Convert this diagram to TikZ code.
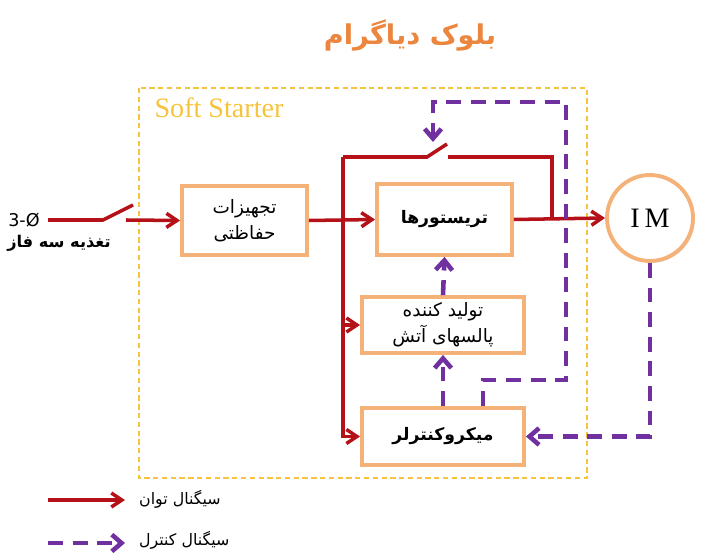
\documentclass[tikz,border=0pt]{standalone}
\usepackage{fontspec}
\setmainfont{Liberation Serif}
\newfontfamily\farsi[Script=Arabic]{DejaVu Sans}
\newfontfamily\latinsans{DejaVu Sans}
\TeXXeTstate=1
\usepackage{xcolor}
\usetikzlibrary{arrows.meta, shadows}
\definecolor{powred}{RGB}{180,18,24}
\definecolor{ctrlpurple}{RGB}{112,48,160}
\definecolor{boxorange}{RGB}{244,177,120}
\definecolor{titleorange}{RGB}{236,134,62}
\definecolor{framegold}{RGB}{246,196,60}

\begin{document}
\begin{tikzpicture}[x=0.02cm, y=-0.02cm,
    power/.style={draw=powred, line width=2pt},
    powarrow/.style={power, -{Straight Barb[length=6pt, width=8pt]}},
    ctrl/.style={draw=ctrlpurple, line width=2.6pt, dash pattern=on 8.5pt off 5.5pt, -{Straight Barb[length=5.5pt, width=9.5pt]}},
    blockbox/.style={draw=boxorange, line width=2.2pt, fill=white, align=center, inner sep=0pt,
        drop shadow={opacity=0.2, shadow xshift=1pt, shadow yshift=-1pt},
        node font=\farsi\fontsize{10.5}{15}\selectfont},
    boldtext/.style={font=\bfseries\fontsize{9.8}{12}\selectfont},
    ]
    \useasboundingbox (0,0) rectangle (702,553);
    \fill[white] (0,0) rectangle (702,553);

    % title and frame
    \node[text=titleorange, font=\farsi\bfseries\fontsize{15.5}{18}\selectfont] (title) at (410,35) {\beginR بلوک دیاگرام\endR};
    \draw[framegold, line width=0.6pt, dash pattern=on 3pt off 2pt] (139,88) rectangle (587,478);
    \node[text=framegold, font=\fontsize{16}{18}\selectfont] (softlbl) at (219,108) {Soft Starter};

    % blocks
    \node[blockbox, minimum width=2.5cm, minimum height=1.38cm] (prot) at (244.5,220.5) {\beginR تجهیزات\endR\\\beginR حفاظتی\endR};
    \node[blockbox, boldtext, minimum width=2.7cm, minimum height=1.42cm] (thy) at (444.5,219.5) {\beginR تریستورها\endR};
    \node[blockbox, minimum width=3.24cm, minimum height=1.12cm] (pulse) at (443,325) {\beginR تولید کننده\endR\\\beginR پالسهای آتش\endR};
    \node[blockbox, boldtext, minimum width=3.24cm, minimum height=1.14cm] (micro) at (443,436.5) {\beginR میکروکنترلر\endR};
    \node[circle, draw=boxorange, line width=2.2pt, fill=white, minimum size=1.72cm,
        drop shadow={opacity=0.2, shadow xshift=1pt, shadow yshift=-1pt},
        font=\fontsize{16}{18}\selectfont] (im) at (650,218) {I\,M};

    % input
    \node[font=\latinsans\fontsize{10}{12}\selectfont] (phase) at (24,220) {3-Ø};
    \node[font=\farsi\bfseries\fontsize{9.2}{12}\selectfont] (feed) at (59,243) {\beginR تغذیه سه فاز\endR};
    \coordinate (in0) at (48,220);
    \coordinate (sw1a) at (103,220);
    \coordinate (sw1b) at (133,205);
    \coordinate (sw1c) at (126,220);
    \draw[power] (in0) -- (sw1a) -- (sw1b);
    \draw[powarrow] (sw1c) -- (prot.west);

    % power path
    \coordinate (bus) at (343,157);
    \coordinate (sw2a) at (427,157);
    \coordinate (sw2b) at (447,144);
    \coordinate (sw2c) at (448,157);
    \coordinate (join) at (552,157);
    \draw[powarrow] (prot.east) -- (thy.west);
    \draw[power] (bus) -- (sw2a) -- (sw2b);
    \draw[power] (sw2c) -- (join) -- (join |- thy.east);
    \draw[powarrow] (thy.east) -- (im.west);
    \draw[powarrow] (bus) |- (micro.west);
    \draw[powarrow] (bus |- pulse.west) -- (pulse.west);

    % control path
    \coordinate (c1) at (483,380);
    \coordinate (c2) at (566,380);
    \coordinate (c3) at (566,102);
    \coordinate (c4) at (433,102);
    \coordinate (swtip) at (433,142);
    \draw[ctrl] (c1 |- micro.north) -- (c1) -- (c2) -- (c3) -- (c4) -- (swtip);
    \draw[ctrl] (micro.north) -- (pulse.south);
    \draw[ctrl] (pulse.north) -- (thy.south);
    \draw[ctrl] (im.south) |- (micro.east);

    % legend
    \coordinate (lg1a) at (48,500);
    \coordinate (lg1b) at (125,500);
    \coordinate (lg2a) at (48,543);
    \coordinate (lg2b) at (125,543);
    \draw[powarrow] (lg1a) -- (lg1b);
    \draw[ctrl] (lg2a) -- (lg2b);
    \node[anchor=west, font=\farsi\fontsize{9}{12}\selectfont] (lgpow) at (133,499) {\beginR سیگنال توان\endR};
    \node[anchor=west, font=\farsi\fontsize{9}{12}\selectfont] (lgctrl) at (133,540) {\beginR سیگنال کنترل\endR};
\end{tikzpicture}
\end{document}
